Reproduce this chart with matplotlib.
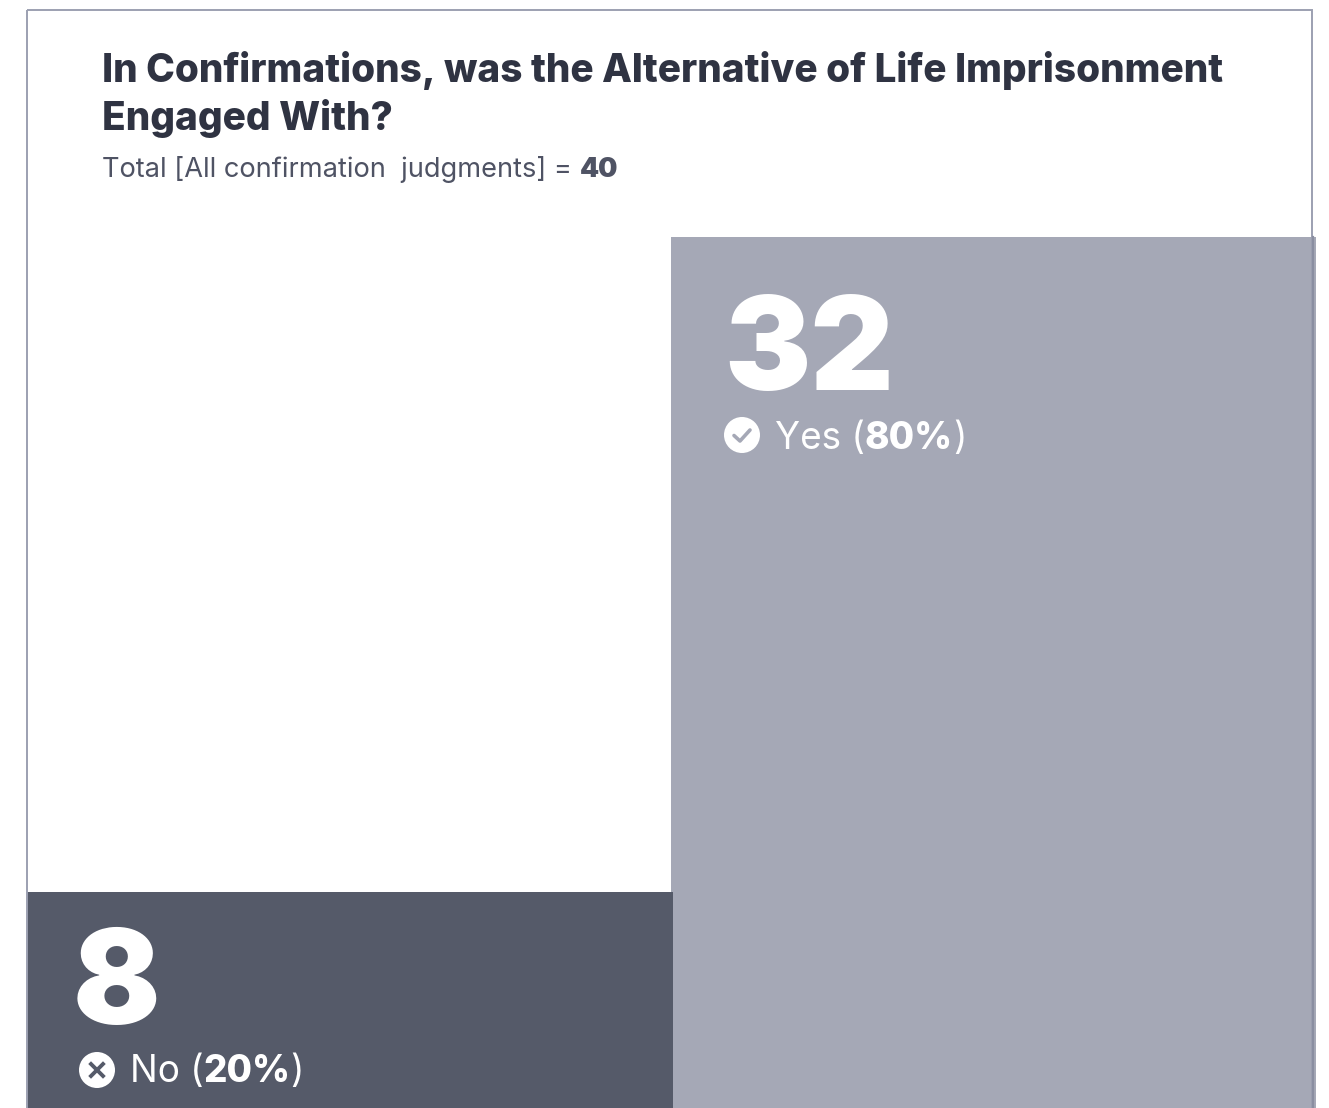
import matplotlib
matplotlib.use("Agg")
import matplotlib.pyplot as plt
from matplotlib.patches import Circle, Rectangle

# data
categories = ["No", "Yes"]
counts = [8, 32]
percents = ["20%", "80%"]
total = 40

W, H = 1329, 1108
TITLE_COL = "#2f3342"
SUB_COL = "#4f5364"
BAR_COLS = ["#555a69", "#a5a8b6"]
EDGE_COL = "#9ca0b1"
FONT = "Inter"

fig = plt.figure(figsize=(W / 100, H / 100), dpi=100, facecolor="white")


def px_axes(x0, y0, x1, y1):
    # axes placed by reference pixel box (top-left origin)
    return fig.add_axes([x0 / W, 1 - y1 / H, (x1 - x0) / W, (y1 - y0) / H])


# bars, on a count scale; the plot runs a little past the bottom edge of the picture
ax = px_axes(27, 237, 1316, 1110)
ax.set_xlim(-0.5, 1.5)
ax.set_ylim(0, max(counts))
ax.axis("off")
ax.bar(1, counts[1], width=1.003, color=BAR_COLS[1], zorder=1)
ax.bar(0, counts[0], width=1.006, color=BAR_COLS[0], zorder=2)

# overlay in pixels for the frame and the text
ov = px_axes(0, 0, W, H)
ov.set_xlim(0, W)
ov.set_ylim(H, 0)
ov.axis("off")
ov.patch.set_alpha(0)

ov.add_patch(Rectangle((26.5, 10), 1285.5, 1110, fill=False, ec=EDGE_COL, lw=1.4, zorder=5))
ov.plot([1312.5, 1312.5], [237, H], color="#8a8ea1", lw=1.6, zorder=5)


def runs(x, y, parts, size, color, family=FONT):
    # draw text pieces one after the other on a shared baseline
    r = fig.canvas.get_renderer()
    for s, weight in parts:
        ov.text(x, y, s, fontsize=size, fontweight=weight, color=color,
                family=family, va="baseline", ha="left", zorder=6)
        adv = ov.text(x, y, s.replace(" ", "\u00a0"), fontsize=size, fontweight=weight,
                      family=family, alpha=0)
        x += adv.get_window_extent(r).width
    return x


ov.text(102, 82, "In Confirmations, was the Alternative of Life Imprisonment", fontsize=27.9,
        fontweight=800, color=TITLE_COL, family=FONT, va="baseline")
ov.text(102, 130, "Engaged With?", fontsize=27.9, fontweight=800, color=TITLE_COL,
        family=FONT, va="baseline")
runs(102, 177, [("Total [All confirmation  judgments] = ", "normal"), (str(total), "black")],
     19.6, SUB_COL)

# number + label for each block
num_x = [73, 724]
num_y = [1024, 390]
lab_y = [1082, 449]
icon_x = [97, 742]
icon_y = [1070, 435]
for i, cat in enumerate(categories):
    ov.text(num_x[i], num_y[i], str(counts[i]), fontsize=93, fontweight="black", color="white",
            family=FONT, va="baseline", zorder=6)
    ov.add_patch(Circle((icon_x[i], icon_y[i]), 18, fc="white", ec="none", zorder=6))
    ix, iy = icon_x[i], icon_y[i]
    if cat == "Yes":
        ov.plot([ix - 8, ix - 2, ix + 8], [iy + 0.5, iy + 6, iy - 5], color=BAR_COLS[i], lw=2.6,
                solid_capstyle="round", solid_joinstyle="round", zorder=7)
    else:
        ov.plot([ix - 6, ix + 6], [iy - 6, iy + 6], color=BAR_COLS[i], lw=2.8, zorder=7)
        ov.plot([ix - 6, ix + 6], [iy + 6, iy - 6], color=BAR_COLS[i], lw=2.8, zorder=7)
    runs(icon_x[i] + 33, lab_y[i], [(cat + " (", "normal"), (percents[i], 800), (")", "normal")],
         26.6, "white")

fig.savefig("out.png", dpi=100)
plt.close()
